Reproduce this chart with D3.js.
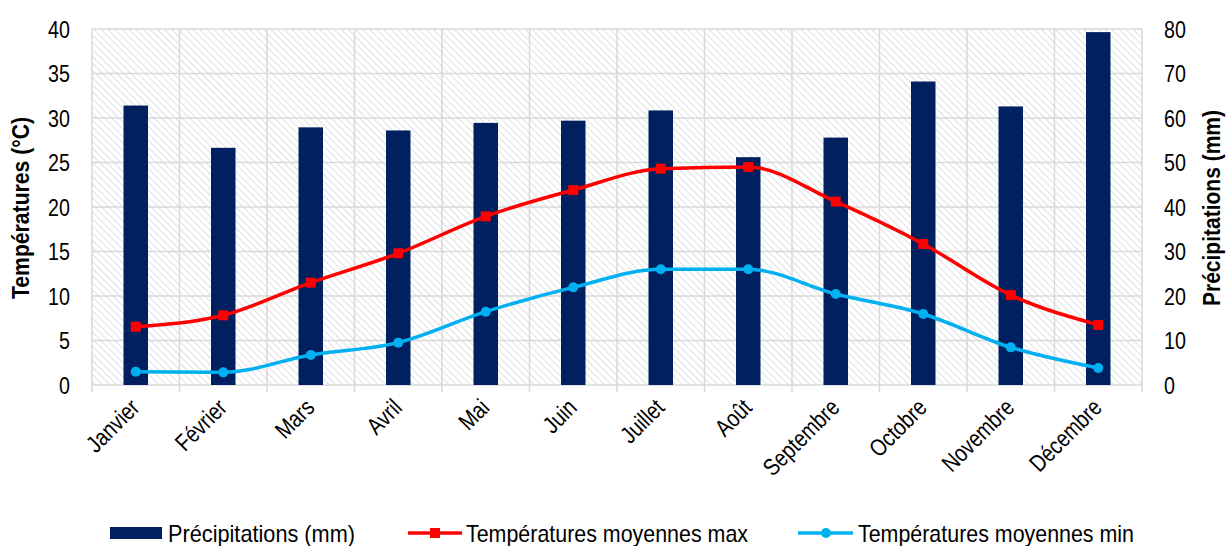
<!DOCTYPE html>
<html><head><meta charset="utf-8">
<script src="https://cdn.jsdelivr.net/npm/d3@7"></script>
<style>
body{margin:0;background:#fff;}
text{font-family:"Liberation Sans",Arial,sans-serif;fill:#000;}
</style></head>
<body><svg id="c" width="1228" height="546"></svg>
<script>
const months = ["Janvier","Février","Mars","Avril","Mai","Juin","Juillet","Août","Septembre","Octobre","Novembre","Décembre"];
const precip = [62.8,53.3,57.9,57.2,58.9,59.4,61.7,51.2,55.6,68.2,62.6,79.3];
const tmax = [6.55,7.83,11.5,14.8,18.95,21.9,24.3,24.5,20.6,15.85,10.1,6.75];
const tmin = [1.5,1.42,3.37,4.76,8.24,10.97,13.0,13.0,10.22,7.98,4.23,1.91];
const leftTicks = [0,5,10,15,20,25,30,35,40];
const rightTicks = [0,10,20,30,40,50,60,70,80];

const SX = 0.82;
const svg = d3.select("#c");
const L=92,R=1142,T=29,B=385;
const x = d3.scaleBand().domain(months).range([L,R]).paddingInner(0.72).paddingOuter(0.36);
const xc = d3.scaleBand().domain(months).range([L,R]);
const yL = d3.scaleLinear().domain([0,40]).range([B,T]);
const yR = d3.scaleLinear().domain([0,80]).range([B,T]);

const defs = svg.append("defs");
const pat = defs.append("pattern").attr("id","hatch").attr("patternUnits","userSpaceOnUse")
  .attr("width",5).attr("height",5).attr("patternTransform","rotate(-45)");
pat.append("rect").attr("width",5).attr("height",5).attr("fill","#fff");
pat.append("line").attr("x1",0).attr("y1",0).attr("x2",0).attr("y2",5).attr("stroke","#d8d8d8").attr("stroke-width",1.6);

svg.append("rect").attr("x",L).attr("y",T).attr("width",R-L).attr("height",B-T).attr("fill","url(#hatch)");

// grid
const g = svg.append("g");
g.selectAll(".hg").data(leftTicks).join("line")
  .attr("x1",L).attr("x2",R).attr("y1",d=>yL(d)).attr("y2",d=>yL(d))
  .attr("stroke","#d9d9d9").attr("stroke-width",1.5);
const bounds = months.map(m=>xc(m)).concat([R]);
g.selectAll(".vg").data(bounds).join("line")
  .attr("x1",d=>d).attr("x2",d=>d).attr("y1",T).attr("y2",B+7)
  .attr("stroke","#d9d9d9").attr("stroke-width",1.5);

// bars
svg.append("g").selectAll("rect").data(precip).join("rect")
  .attr("x",(d,i)=>x(months[i])).attr("width",x.bandwidth())
  .attr("y",d=>yR(d)).attr("height",d=>B-yR(d)).attr("fill","#002060");

const cx = m => xc(m)+xc.bandwidth()/2;
const line = d3.line().x((d,i)=>cx(months[i])).y(d=>yL(d)).curve(d3.curveMonotoneX);

svg.append("path").datum(tmax).attr("d",line).attr("fill","none").attr("stroke","#ff0000").attr("stroke-width",3.5);
svg.append("g").selectAll("rect").data(tmax).join("rect")
  .attr("x",(d,i)=>cx(months[i])-5).attr("y",d=>yL(d)-5).attr("width",10).attr("height",10).attr("fill","#ff0000");

svg.append("path").datum(tmin).attr("d",line).attr("fill","none").attr("stroke","#00b0f0").attr("stroke-width",3.5);
svg.append("g").selectAll("circle").data(tmin).join("circle")
  .attr("cx",(d,i)=>cx(months[i])).attr("cy",d=>yL(d)).attr("r",5).attr("fill","#00b0f0");

// axes labels
svg.append("g").selectAll("text").data(leftTicks).join("text")
  .attr("transform",d=>`translate(70,${yL(d)}) scale(${SX},1)`).attr("dy","0.36em").attr("text-anchor","end")
  .attr("font-size",24).text(d=>d);
svg.append("g").selectAll("text").data(rightTicks).join("text")
  .attr("transform",d=>`translate(1164,${yR(d)}) scale(${SX},1)`).attr("dy","0.36em").attr("text-anchor","start")
  .attr("font-size",24).text(d=>d);

svg.append("text").attr("transform","translate(29,208) rotate(-90)").attr("text-anchor","middle")
  .attr("font-size",23).attr("font-weight","bold")
  .attr("textLength",182).attr("lengthAdjust","spacingAndGlyphs").text("Températures (°C)");
svg.append("text").attr("transform","translate(1220,208) rotate(-90)").attr("text-anchor","middle")
  .attr("font-size",23).attr("font-weight","bold")
  .attr("textLength",196).attr("lengthAdjust","spacingAndGlyphs").text("Précipitations (mm)");

svg.append("g").selectAll("text").data(months).join("text")
  .attr("transform",m=>`translate(${cx(m)-1},${B+18}) rotate(-45) scale(${SX},1)`)
  .attr("text-anchor","end").attr("dy","0.36em").attr("font-size",24).text(m=>m);

// legend
const ly = 533;
svg.append("rect").attr("x",110).attr("y",ly-6).attr("width",52).attr("height",12).attr("fill","#002060");
svg.append("text").attr("x",168).attr("y",ly).attr("dy","0.36em").attr("font-size",24)
  .attr("textLength",187).attr("lengthAdjust","spacingAndGlyphs").text("Précipitations (mm)");
svg.append("line").attr("x1",408).attr("x2",462).attr("y1",ly).attr("y2",ly).attr("stroke","#ff0000").attr("stroke-width",3.5);
svg.append("rect").attr("x",430).attr("y",ly-5).attr("width",10).attr("height",10).attr("fill","#ff0000");
svg.append("text").attr("x",466).attr("y",ly).attr("dy","0.36em").attr("font-size",24)
  .attr("textLength",282).attr("lengthAdjust","spacingAndGlyphs").text("Températures moyennes max");
svg.append("line").attr("x1",798).attr("x2",853).attr("y1",ly).attr("y2",ly).attr("stroke","#00b0f0").attr("stroke-width",3.5);
svg.append("circle").attr("cx",826).attr("cy",ly).attr("r",5).attr("fill","#00b0f0");
svg.append("text").attr("x",858).attr("y",ly).attr("dy","0.36em").attr("font-size",24)
  .attr("textLength",276).attr("lengthAdjust","spacingAndGlyphs").text("Températures moyennes min");
</script></body></html>
